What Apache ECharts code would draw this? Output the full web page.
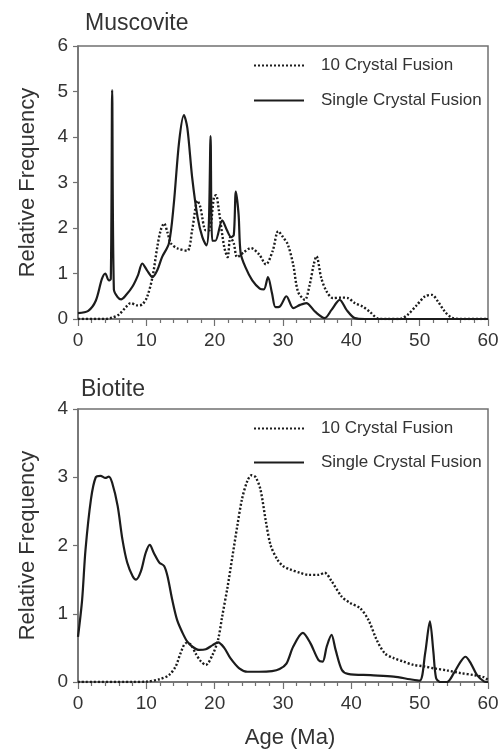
<!DOCTYPE html>
<html>
<head>
<meta charset="utf-8">
<script src="https://cdn.jsdelivr.net/npm/echarts@6/dist/echarts.min.js"></script>
<style>
  html, body { margin: 0; padding: 0; background: #fff; }
  #chart { width: 502px; height: 750px; }
</style>
</head>
<body>
<div id="chart"></div>
<script>
// x 轴刻度 (Age, Ma)
const ageTicks = [0, 10, 20, 30, 40, 50, 60];

// Muscovite - single crystal fusion
const muscSingleAge = [0, 1.5, 2.6, 3.5, 4.0, 4.5, 4.8, 5.0, 5.25, 5.8, 6.3, 7.0, 8.0, 8.8, 9.4, 10.1, 10.9, 11.6, 12.3, 13.3, 14.0, 14.8, 15.5, 16.0, 16.7, 17.5, 18.2, 18.8, 19.15, 19.4, 19.65, 20.1, 21.1, 21.8, 22.4, 22.8, 23.1, 23.5, 23.8, 24.5, 25.5, 26.6, 27.2, 27.8, 28.4, 28.9, 29.5, 30.5, 31.5, 32.5, 33.4, 34.7, 36.1, 37.1, 38.3, 39.3, 40.5, 42, 60];
const muscSingleFreq = [0.13, 0.18, 0.4, 0.88, 1.0, 0.85, 0.88, 5.03, 0.65, 0.48, 0.43, 0.52, 0.72, 0.97, 1.22, 1.07, 0.92, 1.07, 1.36, 1.66, 2.5, 3.9, 4.48, 4.2, 3.12, 2.24, 1.8, 1.62, 2.1, 4.02, 1.72, 1.72, 2.17, 1.95, 1.8, 1.85, 2.8, 2.3, 1.45, 1.14, 0.85, 0.67, 0.65, 0.92, 0.56, 0.26, 0.27, 0.5, 0.24, 0.31, 0.35, 0.16, 0.02, 0.2, 0.42, 0.2, 0.02, 0, 0];

// Muscovite - 10 crystal fusion
const musc10Age = [0, 4, 5, 6, 7, 7.7, 8.7, 9.4, 10.1, 10.9, 11.6, 12.1, 12.6, 13.1, 13.6, 14.6, 16.0, 16.7, 17.5, 17.9, 18.7, 19.2, 19.9, 20.2, 20.6, 21.4, 21.9, 22.3, 22.8, 23.3, 24.3, 25.3, 26.5, 27.5, 28.5, 29.3, 30.0, 30.7, 31.5, 32.2, 33.2, 33.9, 34.5, 34.9, 35.6, 36.4, 37.3, 38.6, 39.5, 40.5, 41.7, 42.7, 43.9, 45.2, 47.1, 48.3, 49.6, 50.8, 51.8, 52.7, 53.7, 54.7, 56, 60];
const musc10Freq = [0, 0, 0.03, 0.1, 0.26, 0.35, 0.3, 0.32, 0.48, 0.92, 1.58, 1.95, 2.1, 1.9, 1.66, 1.55, 1.5, 1.95, 2.6, 2.46, 1.95, 1.95, 2.68, 2.72, 2.4, 1.58, 1.36, 1.8, 1.66, 1.36, 1.47, 1.56, 1.42, 1.2, 1.5, 1.93, 1.8, 1.64, 1.19, 0.6, 0.42, 0.75, 1.2, 1.38, 0.9, 0.6, 0.46, 0.47, 0.46, 0.35, 0.27, 0.16, 0.01, 0, 0, 0.1, 0.31, 0.5, 0.53, 0.38, 0.16, 0.03, 0, 0];

// Biotite - single crystal fusion
const bioSingleAge = [0, 0.6, 1.1, 1.9, 2.6, 3.3, 4.0, 4.5, 5.0, 5.8, 6.5, 7.2, 8.0, 8.5, 9.2, 9.9, 10.5, 11.1, 11.9, 12.6, 13.1, 13.8, 14.5, 15.3, 16.0, 16.7, 17.7, 18.7, 19.7, 20.5, 21.4, 22.3, 23.6, 24.8, 26.5, 28.4, 29.5, 30.5, 31.5, 32.9, 34.0, 35.2, 35.8, 36.4, 37.1, 37.7, 38.6, 39.5, 42.8, 46.2, 48.6, 50.0, 50.8, 51.5, 52.0, 52.4, 53.0, 54.0, 55.0, 56.0, 56.7, 57.5, 58.4, 59.4, 60];
const bioSingleFreq = [0.66, 1.2, 1.94, 2.68, 3.0, 3.02, 2.99, 3.01, 2.92, 2.58, 2.09, 1.75, 1.55, 1.5, 1.62, 1.89, 2.01, 1.89, 1.75, 1.7, 1.55, 1.2, 0.91, 0.72, 0.59, 0.52, 0.47, 0.48, 0.54, 0.58, 0.5, 0.35, 0.2, 0.15, 0.15, 0.16, 0.19, 0.27, 0.52, 0.72, 0.57, 0.32, 0.3, 0.52, 0.69, 0.47, 0.18, 0.12, 0.1, 0.08, 0.04, 0.02, 0.42, 0.89, 0.45, 0.06, 0, 0, 0.13, 0.3, 0.37, 0.27, 0.1, 0.01, 0];

// Biotite - 10 crystal fusion
const bio10Age = [0, 8, 10, 11.9, 13.3, 14.3, 15.0, 15.8, 16.5, 17.2, 18.0, 18.7, 19.7, 20.5, 21.1, 21.9, 22.6, 23.3, 24.0, 24.8, 25.4, 26.0, 26.7, 27.5, 28.2, 29.2, 30.0, 31.0, 32.5, 33.7, 35.2, 36.1, 37.1, 38.6, 39.8, 41.3, 42.5, 43.7, 44.9, 46.2, 47.6, 49.1, 50.6, 52.1, 54.0, 56.0, 58.0, 59.4, 60];
const bio10Freq = [0, 0, 0.005, 0.04, 0.1, 0.23, 0.42, 0.57, 0.55, 0.42, 0.3, 0.25, 0.4, 0.62, 0.96, 1.4, 1.84, 2.28, 2.68, 2.95, 3.03, 3.0, 2.82, 2.35, 2.0, 1.79, 1.7, 1.65, 1.6, 1.57, 1.57, 1.6, 1.48, 1.25, 1.16, 1.08, 0.91, 0.62, 0.42, 0.35, 0.3, 0.25, 0.23, 0.2, 0.17, 0.13, 0.1, 0.07, 0.03];

const zip = (xs, ys) => xs.map((x, i) => [x, ys[i]]);

const axisGray = '#707070';
const textColor = '#333';
const lineColor = '#1c1c1c';
const fontFamily = 'Liberation Sans, Arial, sans-serif';

function xAxisFor(gridIndex, withName) {
	return {
		type: 'value',
		gridIndex: gridIndex,
		min: ageTicks[0],
		max: ageTicks[ageTicks.length - 1],
		interval: 10,
		name: withName ? 'Age (Ma)' : '',
		nameLocation: 'middle',
		nameGap: 45,
		nameTextStyle: { fontSize: 22, color: textColor, fontFamily: fontFamily, padding: [0, 0, 0, 14] },
		axisLine: { lineStyle: { color: axisGray, width: 1.5 } },
		axisTick: { length: 7, lineStyle: { color: axisGray, width: 1.2 } },
		minorTick: { show: true, splitNumber: 5, length: 4, lineStyle: { color: axisGray, width: 1.2 } },
		splitLine: { show: false },
		axisLabel: { fontSize: 19, color: textColor, fontFamily: fontFamily, margin: 12 }
	};
}

function yAxisFor(gridIndex, max) {
	return {
		type: 'value',
		gridIndex: gridIndex,
		min: 0,
		max: max,
		interval: 1,
		name: 'Relative Frequency',
		nameLocation: 'middle',
		nameGap: 39,
		nameTextStyle: { fontSize: 22, color: textColor, fontFamily: fontFamily },
		axisLine: { show: true, lineStyle: { color: axisGray, width: 1.5 } },
		axisTick: { show: true, length: 5, lineStyle: { color: axisGray, width: 1.2 } },
		splitLine: { show: false },
		axisLabel: { fontSize: 19, color: textColor, fontFamily: fontFamily, margin: 10 }
	};
}

function lineSeries(name, data, gridIndex, dotted) {
	return {
		name: name,
		type: 'line',
		xAxisIndex: gridIndex,
		yAxisIndex: gridIndex,
		data: data,
		symbol: 'none',
		smooth: 0.3,
		lineStyle: { color: lineColor, width: dotted ? 2.4 : 2.2, type: dotted ? [2, 2] : 'solid' },
		itemStyle: { color: lineColor }
	};
}

function legendFor(top, gap) {
	return {
		orient: 'vertical',
		left: 253,
		top: top,
		padding: 0,
		itemWidth: 50,
		itemHeight: 17,
		itemGap: gap,
		itemStyle: { opacity: 0 },
		data: ['10 Crystal Fusion', 'Single Crystal Fusion'],
		textStyle: { fontSize: 17, color: textColor, fontFamily: fontFamily, padding: [0, 0, 0, 12] }
	};
}

const chart = echarts.init(document.getElementById('chart'), null, { renderer: 'canvas' });

chart.setOption({
	animation: false,
	backgroundColor: '#fff',
	title: [
		{ text: 'Muscovite', left: 85, top: 12, padding: 0, textStyle: { fontSize: 23, fontWeight: 'normal', color: textColor, fontFamily: fontFamily } },
		{ text: 'Biotite', left: 81, top: 378, padding: 0, textStyle: { fontSize: 23, fontWeight: 'normal', color: textColor, fontFamily: fontFamily } }
	],
	legend: [legendFor(57, 18), legendFor(420, 17)],
	grid: [
		{ left: 78, top: 46, width: 410, height: 273, show: true, borderColor: axisGray, borderWidth: 1.5 },
		{ left: 78, top: 409, width: 410, height: 273, show: true, borderColor: axisGray, borderWidth: 1.5 }
	],
	xAxis: [xAxisFor(0, false), xAxisFor(1, true)],
	yAxis: [yAxisFor(0, 6), yAxisFor(1, 4)],
	series: [
		lineSeries('10 Crystal Fusion', zip(musc10Age, musc10Freq), 0, true),
		lineSeries('Single Crystal Fusion', zip(muscSingleAge, muscSingleFreq), 0, false),
		lineSeries('10 Crystal Fusion', zip(bio10Age, bio10Freq), 1, true),
		lineSeries('Single Crystal Fusion', zip(bioSingleAge, bioSingleFreq), 1, false)
	]
});
</script>
</body>
</html>
